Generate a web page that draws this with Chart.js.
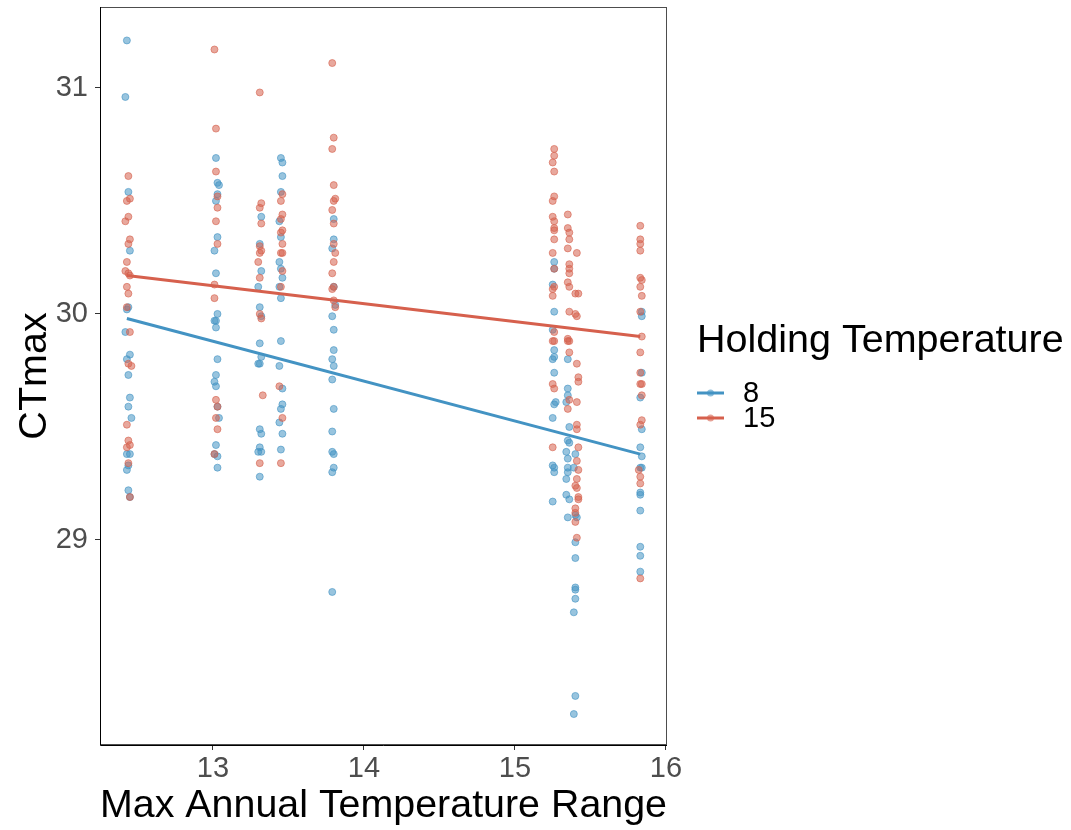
<!DOCTYPE html>
<html>
<head>
<meta charset="utf-8">
<script src="https://cdn.jsdelivr.net/npm/chart.js@4/dist/chart.umd.min.js"></script>
<style>
  html, body { margin: 0; padding: 0; background: #ffffff; }
  #wrap { width: 1071px; height: 830px; }
</style>
</head>
<body>
<div id="wrap"><canvas id="c" width="1071" height="830"></canvas></div>
<script>
// ---- data ----
const seriesNames = ["8", "15"];
const xTicks = [13, 14, 15, 16];
const yTicks = [29, 30, 31];
const xTitle = "Max Annual Temperature Range";
const yTitle = "CTmax";
const legendTitle = "Holding Temperature";

// Holding temperature 8
const x8 = [
  12.43,12.42,12.44,12.45,12.44,12.43,12.42,12.45,12.43,12.44,12.45,12.44,12.46,12.43,12.45,12.44,12.43,12.44,12.45,
  13.02,13.03,13.04,13.03,13.02,13.03,13.01,13.02,13.03,13.01,13.02,13.02,13.03,13.02,13.01,13.02,13.03,13.04,13.02,13.01,13.03,13.03,
  13.32,13.31,13.32,13.30,13.31,13.32,13.31,13.32,13.30,13.31,13.31,13.32,13.31,13.30,13.32,13.31,
  13.45,13.46,13.46,13.45,13.44,13.45,13.44,13.45,13.46,13.44,13.45,13.45,13.44,13.46,13.46,13.45,13.44,13.46,13.45,
  13.80,13.80,13.79,13.80,13.81,13.79,13.80,13.80,13.79,13.80,13.79,13.80,13.79,13.79,13.80,13.80,13.79,13.79,
  15.26,15.26,15.25,15.26,15.25,15.26,15.26,15.25,15.26,15.26,15.27,15.25,15.25,15.26,15.26,15.25,
  15.35,15.35,15.34,15.35,15.36,15.35,15.36,15.34,15.35,15.35,15.35,15.34,15.34,15.36,15.35,
  15.40,15.39,15.40,15.41,15.40,15.40,15.40,15.40,15.40,15.39,15.40,15.39,
  15.84,15.84,15.84,15.83,15.84,15.83,15.84,15.84,15.83,15.83,15.83,15.83,15.83,15.83,15.83
];
const y8 = [
  31.21,30.96,30.54,30.28,30.03,30.02,29.92,29.82,29.80,29.73,29.63,29.59,29.54,29.38,29.38,29.33,29.31,29.22,29.19,
  30.69,30.58,30.57,30.53,30.50,30.34,30.28,30.18,30.00,29.97,29.97,29.94,29.80,29.73,29.70,29.68,29.59,29.54,29.42,29.38,29.37,29.32,
  30.43,30.31,30.19,30.12,30.03,29.99,29.87,29.81,29.78,29.78,29.49,29.47,29.41,29.39,29.39,29.28,
  30.69,30.67,30.61,30.54,30.41,30.34,30.23,30.20,30.16,30.12,30.07,29.88,29.77,29.67,29.60,29.58,29.52,29.47,29.40,
  30.42,30.33,30.29,30.12,30.04,29.99,29.93,29.84,29.80,29.77,29.71,29.58,29.48,29.39,29.38,29.32,29.30,28.77,
  30.23,30.20,30.13,30.01,29.93,29.84,29.81,29.80,29.74,29.60,29.61,29.54,29.33,29.32,29.30,29.17,
  29.67,29.64,29.61,29.80,29.50,29.44,29.43,29.39,29.36,29.32,29.30,29.27,29.20,29.18,29.10,
  29.38,29.32,29.11,29.10,28.99,28.92,28.79,28.78,28.74,28.68,28.31,28.23,
  30.01,29.99,29.74,29.63,29.49,29.41,29.37,29.32,29.32,29.21,29.20,29.13,28.97,28.93,28.86
];

// Holding temperature 15
const x15 = [
  12.44,12.45,12.43,12.44,12.42,12.45,12.44,12.43,12.42,12.44,12.45,12.43,12.44,12.43,12.45,12.44,12.46,12.43,12.44,12.45,12.43,12.44,12.45,
  13.01,13.02,13.02,13.03,13.03,13.02,13.03,13.01,13.01,13.02,13.03,13.02,13.03,13.01,
  13.31,13.32,13.31,13.32,13.31,13.32,13.31,13.30,13.31,13.31,13.32,13.33,13.31,
  13.46,13.45,13.46,13.45,13.46,13.45,13.46,13.45,13.46,13.46,13.45,13.44,13.46,13.45,
  13.79,13.80,13.79,13.80,13.81,13.80,13.79,13.80,13.80,13.81,13.80,13.79,13.80,13.79,13.80,13.81,
  15.26,15.26,15.25,15.26,15.26,15.25,15.25,15.26,15.26,15.26,15.26,15.25,15.26,15.26,15.25,15.25,15.26,15.25,15.26,15.25,15.26,15.25,
  15.35,15.35,15.36,15.36,15.35,15.36,15.36,15.36,15.35,15.36,15.36,15.35,15.35,15.36,15.36,15.35,15.36,
  15.41,15.40,15.42,15.40,15.41,15.41,15.42,15.42,15.41,15.41,15.41,15.42,15.41,15.42,15.41,15.40,15.41,15.42,15.42,15.40,15.40,15.40,15.41,
  15.83,15.83,15.83,15.83,15.83,15.84,15.83,15.84,15.83,15.84,15.83,15.83,15.84,15.83,15.84,15.84,15.83,15.82,15.83,15.83,15.83
];
const y15 = [
  30.61,30.51,30.50,30.43,30.41,30.33,30.31,30.23,30.19,30.18,30.17,30.12,30.09,30.03,29.92,29.78,29.77,29.51,29.44,29.42,29.41,29.34,29.19,
  31.17,30.82,30.63,30.52,30.47,30.41,30.31,30.13,30.07,29.62,29.59,29.54,29.49,29.38,
  30.98,30.49,30.47,30.40,30.30,30.28,30.27,30.23,30.16,30.00,29.98,29.64,29.34,
  30.53,30.50,30.44,30.42,30.37,30.36,30.31,30.27,30.27,30.19,30.12,29.68,29.54,29.34,
  31.11,30.78,30.73,30.57,30.51,30.50,30.46,30.40,30.31,30.27,30.23,30.18,30.12,30.11,30.06,30.03,
  30.73,30.70,30.67,30.63,30.52,30.50,30.43,30.41,30.38,30.37,30.33,30.27,30.20,30.12,30.11,30.08,29.92,29.88,29.88,29.69,29.67,29.41,
  30.44,30.38,30.36,30.33,30.29,30.22,30.20,30.18,30.14,30.12,30.01,29.89,29.88,29.83,29.62,29.58,29.88,
  30.27,30.09,30.09,30.00,29.99,29.78,29.72,29.70,29.61,29.51,29.49,29.41,29.35,29.31,29.27,29.24,29.23,29.19,29.18,29.14,29.12,29.08,29.01,
  30.39,30.33,30.31,30.28,30.16,30.15,30.12,30.08,30.01,29.90,29.83,29.74,29.69,29.69,29.64,29.53,29.51,29.31,29.28,29.25,28.83
];

// fitted regression lines (end points)
const fitX = [12.43, 15.83];
const fit8 = [29.98, 29.38];
const fit15 = [30.17, 29.90];

// ---- styling ----
const blue = "rgb(67,147,195)";
const red = "rgb(214,96,77)";
const blueA = "rgba(67,147,195,0.55)";
const redA = "rgba(214,96,77,0.55)";
const FONT = "'Liberation Sans', Arial, sans-serif";

function pts(xs, ys) { return xs.map((x, i) => ({ x: x, y: ys[i] })); }

const frame = {
  id: "frame",
  afterDatasetsDraw(chart) {
    const a = chart.chartArea, ctx = chart.ctx;
    ctx.save();
    ctx.strokeStyle = "#4d4d4d";
    ctx.lineWidth = 1;
    ctx.strokeRect(a.left + 0.5, a.top + 0.5, a.right - a.left - 1, a.bottom - a.top - 1);
    ctx.strokeStyle = "#000";
    ctx.beginPath();
    ctx.moveTo(a.left + 0.5, a.top);
    ctx.lineTo(a.left + 0.5, a.bottom + 0.5);
    ctx.lineTo(a.right, a.bottom + 0.5);
    ctx.stroke();
    ctx.restore();
  },
  afterDraw(chart) {
    const ctx = chart.ctx;
    ctx.save();
    ctx.fillStyle = "#000";
    ctx.textBaseline = "middle";
    ctx.textAlign = "left";
    ctx.font = "39.5px " + FONT;
    ctx.fillText(legendTitle, 697, 341);
    const cols = [blue, red];
    const ys = [393, 418];
    seriesNames.forEach((n, i) => {
      ctx.strokeStyle = cols[i];
      ctx.lineWidth = 3;
      ctx.beginPath();
      ctx.moveTo(697, ys[i]);
      ctx.lineTo(724, ys[i]);
      ctx.stroke();
      ctx.fillStyle = cols[i];
      ctx.globalAlpha = 0.6;
      ctx.beginPath();
      ctx.arc(710.5, ys[i], 3.5, 0, Math.PI * 2);
      ctx.fill();
      ctx.globalAlpha = 1;
      ctx.fillStyle = "#000";
      ctx.font = "29px " + FONT;
      ctx.fillText(n, 743, ys[i] + 1);
    });
    ctx.restore();
  }
};

new Chart(document.getElementById("c"), {
  type: "scatter",
  data: {
    datasets: [
      { label: "fit 8", type: "line", data: pts(fitX, fit8), borderColor: blue, borderWidth: 3, pointRadius: 0, fill: false, order: 0 },
      { label: "fit 15", type: "line", data: pts(fitX, fit15), borderColor: red, borderWidth: 3, pointRadius: 0, fill: false, order: 0 },
      { label: seriesNames[1], data: pts(x15, y15), backgroundColor: redA, borderColor: "rgba(214,96,77,0.6)", borderWidth: 1, pointRadius: 3.5, order: 1 },
      { label: seriesNames[0], data: pts(x8, y8), backgroundColor: blueA, borderColor: "rgba(67,147,195,0.6)", borderWidth: 1, pointRadius: 3.5, order: 2 }
    ]
  },
  options: {
    responsive: false,
    animation: false,
    devicePixelRatio: 1,
    layout: { padding: { left: 0, top: 7, right: 404, bottom: 0 } },
    plugins: { legend: { display: false }, tooltip: { enabled: false } },
    scales: {
      x: {
        type: "linear",
        min: 12.252, max: 16.007,
        afterBuildTicks(s) { s.ticks = xTicks.map(v => ({ value: v })); },
        afterFit(s) { s.height = 85; s.paddingLeft = 0; s.paddingRight = 0; },
        grid: { drawOnChartArea: false, drawTicks: true, tickLength: 5, color: "#333" },
        border: { display: false },
        ticks: { font: { family: FONT, size: 29 }, color: "#4d4d4d", padding: 2 },
        title: { display: true, text: xTitle, font: { family: FONT, size: 39.5 }, color: "#000", padding: { top: 0, bottom: 0 } }
      },
      y: {
        type: "linear",
        min: 28.093, max: 31.358,
        afterBuildTicks(s) { s.ticks = yTicks.map(v => ({ value: v })); },
        afterFit(s) { s.width = 100; s.paddingTop = 0; s.paddingBottom = 0; },
        grid: { drawOnChartArea: false, drawTicks: true, tickLength: 5, color: "#333" },
        border: { display: false },
        ticks: { font: { family: FONT, size: 29 }, color: "#4d4d4d", padding: 7 },
        title: { display: true, text: yTitle, font: { family: FONT, size: 39.5 }, color: "#000", padding: { top: 11, bottom: 0 } }
      }
    }
  },
  plugins: [frame]
});
</script>
</body>
</html>
